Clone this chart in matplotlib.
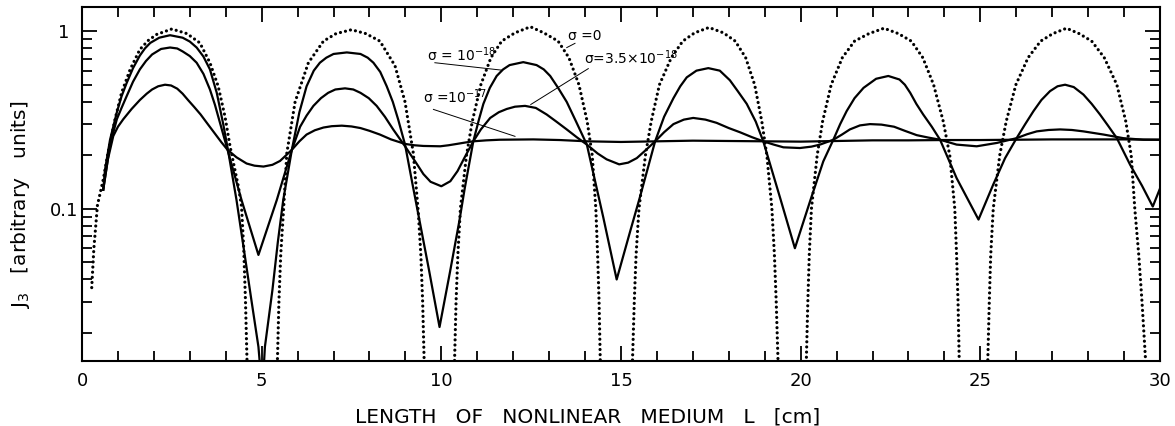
import numpy as np
import matplotlib
matplotlib.use('Agg')
import matplotlib.pyplot as plt

plt.rcParams['font.family'] = ['DejaVu Sans']
plt.rcParams['mathtext.fontset'] = 'dejavusans'

# sigma = 0 (dotted)
sig0_L = [0.27, 0.33, 0.43, 0.59, 0.73, 0.92, 1.10, 1.34, 1.61, 1.85, 2.08, 2.50,
          2.92, 3.28, 3.56, 3.79, 3.98, 4.12, 4.35, 4.44, 4.50, 4.55, 4.60,
          5.43, 5.48, 5.53, 5.61, 5.70, 5.93, 6.30, 6.72, 7.07, 7.50,
          7.90, 8.29, 8.71, 8.99, 9.22, 9.36, 9.43, 9.48, 9.53,
          10.36, 10.41, 10.46, 10.53, 10.70, 10.86, 11.10, 11.38, 11.68, 12.05, 12.48,
          12.85, 13.25, 13.55, 13.83, 14.06, 14.20, 14.30, 14.35, 14.39, 14.43,
          15.31, 15.37, 15.42, 15.50, 15.68, 15.84, 16.07, 16.40, 16.72, 17.05, 17.45,
          17.85, 18.18, 18.47, 18.72, 18.92, 19.06, 19.20, 19.27, 19.32, 19.38,
          20.15, 20.20, 20.24, 20.30, 20.46, 20.61, 20.85, 21.16, 21.50, 21.90, 22.32,
          22.72, 23.08, 23.40, 23.70, 23.97, 24.15, 24.29, 24.34, 24.38, 24.42,
          25.20, 25.25, 25.29, 25.36, 25.54, 25.72, 25.99, 26.33, 26.68, 27.02, 27.40,
          27.75, 28.10, 28.45, 28.80, 29.05, 29.20, 29.30, 29.41, 29.50, 29.62]
sig0_J = [0.036, 0.060, 0.105, 0.146, 0.21, 0.32, 0.45, 0.61, 0.79, 0.89, 0.96, 1.03,
          0.97, 0.86, 0.665, 0.49, 0.33, 0.225, 0.134, 0.103, 0.06, 0.03, 0.012,
          0.012, 0.03, 0.055, 0.10, 0.206, 0.40, 0.665, 0.88, 0.97, 1.02,
          0.97, 0.88, 0.64, 0.40, 0.206, 0.095, 0.055, 0.03, 0.012,
          0.012, 0.03, 0.055, 0.10, 0.20, 0.31, 0.50, 0.71, 0.88, 0.98, 1.06,
          0.98, 0.88, 0.71, 0.50, 0.31, 0.20, 0.10, 0.055, 0.03, 0.012,
          0.012, 0.03, 0.055, 0.10, 0.20, 0.31, 0.50, 0.71, 0.88, 0.98, 1.05,
          0.98, 0.88, 0.71, 0.50, 0.31, 0.20, 0.10, 0.055, 0.03, 0.012,
          0.012, 0.03, 0.055, 0.10, 0.20, 0.31, 0.50, 0.71, 0.88, 0.97, 1.04,
          0.97, 0.88, 0.71, 0.50, 0.31, 0.20, 0.10, 0.055, 0.03, 0.012,
          0.012, 0.03, 0.055, 0.10, 0.20, 0.31, 0.50, 0.71, 0.88, 0.97, 1.04,
          0.97, 0.88, 0.71, 0.50, 0.31, 0.20, 0.10, 0.055, 0.03, 0.012]

# sigma = 1e-18
s18_L = [0.59, 0.64, 0.78, 0.97, 1.10, 1.24, 1.42, 1.61, 1.75, 1.90, 2.15, 2.45, 2.80, 3.00,
         3.19, 3.38, 3.56, 3.75, 3.93, 4.07, 4.30, 4.50, 4.70, 4.91, 4.97,
         5.05, 5.09, 5.30, 5.45, 5.60, 5.84, 6.05, 6.25, 6.45, 6.62, 6.80, 7.00, 7.37, 7.75,
         7.95, 8.11, 8.30, 8.48, 8.65, 8.80, 8.99, 9.20, 9.36, 9.65, 9.95,
         10.24, 10.50, 10.65, 10.89, 11.05, 11.17, 11.35, 11.54, 11.72, 11.90, 12.28, 12.65,
         12.85, 13.03, 13.25, 13.49, 13.75, 14.05, 14.51, 14.88,
         15.25, 15.53, 15.95, 16.20, 16.46, 16.65, 16.83, 17.10, 17.43, 17.75, 18.03, 18.25,
         18.50, 18.75, 18.96, 19.43, 19.84,
         20.26, 20.63, 20.91, 21.10, 21.28, 21.50, 21.75, 22.10, 22.44, 22.75, 22.90, 23.05,
         23.22, 23.41, 23.65, 23.88, 24.34, 24.95,
         25.36, 25.69, 26.01, 26.25, 26.48, 26.70, 26.94, 27.15, 27.36, 27.60, 27.87, 28.10,
         28.33, 28.55, 28.80, 29.17, 29.50, 29.80, 30.00]
s18_J = [0.128, 0.166, 0.245, 0.35, 0.43, 0.51, 0.62, 0.73, 0.80, 0.86, 0.92, 0.95, 0.92, 0.875,
         0.81, 0.72, 0.61, 0.45, 0.30, 0.21, 0.112, 0.06, 0.032, 0.0167, 0.012,
         0.012, 0.0167, 0.035, 0.065, 0.112, 0.215, 0.35, 0.49, 0.60, 0.665, 0.71, 0.745, 0.76, 0.745,
         0.71, 0.665, 0.59, 0.49, 0.40, 0.318, 0.23, 0.137, 0.093, 0.046, 0.0216,
         0.044, 0.085, 0.13, 0.24, 0.32, 0.39, 0.48, 0.56, 0.61, 0.645, 0.67, 0.645,
         0.61, 0.56, 0.48, 0.40, 0.31, 0.23, 0.089, 0.040,
         0.074, 0.117, 0.24, 0.33, 0.42, 0.49, 0.55, 0.60, 0.62, 0.60, 0.53, 0.46,
         0.39, 0.31, 0.24, 0.115, 0.060,
         0.11, 0.185, 0.245, 0.30, 0.355, 0.42, 0.48, 0.54, 0.56, 0.535, 0.50, 0.45,
         0.39, 0.34, 0.29, 0.245, 0.149, 0.087,
         0.137, 0.193, 0.25, 0.30, 0.355, 0.41, 0.46, 0.49, 0.50, 0.485, 0.44, 0.39,
         0.34, 0.295, 0.25, 0.177, 0.135, 0.103, 0.13]

# sigma = 3.5e-18
s35_L = [0.59, 0.78, 0.97, 1.10, 1.24, 1.42, 1.61, 1.78, 1.95, 2.20, 2.45, 2.65, 2.80, 3.00,
         3.19, 3.38, 3.56, 3.70, 3.84, 4.05, 4.44, 4.91,
         5.42, 5.84, 6.07, 6.25, 6.44, 6.65, 6.85, 7.05, 7.32, 7.55, 7.75, 7.98, 8.20, 8.43,
         8.66, 8.99, 9.31, 9.50, 9.70, 10.00, 10.25, 10.45, 10.65, 10.89,
         11.10, 11.36, 11.60, 11.82, 12.05, 12.33, 12.63, 12.93, 13.20, 13.49, 13.77, 14.05,
         14.35, 14.60, 14.95, 15.20, 15.44, 15.70, 15.95,
         16.20, 16.46, 16.75, 17.01, 17.35, 17.66, 18.00, 18.31, 18.65, 18.96, 19.25, 19.52,
         19.98, 20.30, 20.54, 20.91,
         21.15, 21.37, 21.65, 21.93, 22.25, 22.60, 22.90, 23.23, 23.55, 23.88, 24.34, 24.90,
         25.46, 26.01, 26.30, 26.57, 26.90, 27.22, 27.55, 27.87, 28.43, 28.98, 29.54, 30.00]
s35_J = [0.128, 0.23, 0.32, 0.37, 0.43, 0.52, 0.61, 0.68, 0.74, 0.795, 0.81, 0.80, 0.77, 0.725,
         0.665, 0.575, 0.47, 0.385, 0.305, 0.215, 0.112, 0.055,
         0.112, 0.215, 0.29, 0.335, 0.38, 0.42, 0.45, 0.47, 0.477, 0.47, 0.45, 0.42, 0.38, 0.33,
         0.28, 0.225, 0.18, 0.157, 0.142, 0.134, 0.143, 0.163, 0.195, 0.24,
         0.28, 0.325, 0.35, 0.365, 0.376, 0.38, 0.37, 0.34, 0.31, 0.28, 0.253, 0.23,
         0.205, 0.19, 0.178, 0.182, 0.193, 0.215, 0.24,
         0.27, 0.30, 0.318, 0.325, 0.318, 0.305, 0.285, 0.27, 0.253, 0.24, 0.23, 0.222,
         0.22, 0.224, 0.23, 0.245,
         0.262, 0.28, 0.295, 0.30, 0.298, 0.29, 0.275, 0.26, 0.252, 0.245, 0.23, 0.225,
         0.235, 0.25, 0.263, 0.273, 0.278, 0.28, 0.278, 0.273, 0.262, 0.25, 0.245, 0.245]

# sigma = 1e-17
s17_L = [0.59, 0.72, 0.87, 1.00, 1.15, 1.38, 1.61, 1.80, 1.95, 2.12, 2.31, 2.48, 2.65, 2.80,
         2.95, 3.12, 3.30, 3.50, 3.70, 3.88, 4.05, 4.30, 4.58, 4.80, 5.05, 5.30, 5.51, 5.70,
         5.84, 6.05, 6.25, 6.48, 6.72, 6.95, 7.23, 7.50, 7.75, 8.00, 8.29, 8.60, 8.99, 9.25,
         9.50, 9.97, 10.20, 10.43, 10.65, 10.89, 11.25, 11.63, 12.56, 13.30, 14.05,
         15.00, 16.00, 17.00, 18.00, 19.00, 20.00, 21.00, 22.00, 23.00, 24.00, 25.00, 26.00,
         27.00, 28.00, 29.00, 30.00]
s17_J = [0.128, 0.19, 0.257, 0.29, 0.32, 0.365, 0.41, 0.445, 0.47, 0.49, 0.50, 0.495, 0.475, 0.445,
         0.41, 0.375, 0.34, 0.30, 0.265, 0.237, 0.215, 0.195, 0.18, 0.175, 0.173, 0.177, 0.186, 0.202,
         0.215, 0.24, 0.262, 0.277, 0.287, 0.292, 0.294, 0.291, 0.285, 0.275, 0.262, 0.246, 0.232, 0.228,
         0.226, 0.225, 0.228, 0.232, 0.236, 0.24, 0.243, 0.245, 0.246, 0.244, 0.24,
         0.238, 0.24, 0.242, 0.241, 0.24, 0.239, 0.241, 0.243, 0.243, 0.244, 0.244, 0.245,
         0.246, 0.246, 0.246, 0.245]

fig = plt.figure(figsize=(11.75, 4.26), dpi=100)
ax = fig.add_axes([0.0698, 0.1526, 0.9174, 0.831])

ax.plot(sig0_L, sig0_J, color='black', lw=2.3, ls=(0, (0.01, 1.6)), dash_capstyle='round')
ax.plot(s18_L, s18_J, color='black', lw=1.6)
ax.plot(s35_L, s35_J, color='black', lw=1.6)
ax.plot(s17_L, s17_J, color='black', lw=1.6)

ax.set_yscale('log')
ax.set_xlim(0, 30)
ax.set_ylim(0.0139, 1.37)

ax.set_xticks(np.arange(0, 31, 5))
ax.set_xticks(np.arange(0, 31, 1), minor=True)
ax.set_yticks([0.1, 1])
ax.set_yticklabels(['0.1', '1'])
ax.tick_params(which='both', direction='in', top=True, right=True, width=1.3,
               labelsize=13)
ax.tick_params(axis='x', which='major', length=10.5, pad=8)
ax.tick_params(axis='x', which='minor', length=7)
ax.tick_params(axis='y', which='major', length=11, pad=13)
ax.tick_params(axis='y', which='minor', length=7)
for lab in ax.get_yticklabels():
    lab.set_ha('center')
for sp in ax.spines.values():
    sp.set_linewidth(1.5)

ax.set_xlabel('LENGTH   OF   NONLINEAR   MEDIUM   L   [cm]', fontsize=14.5)
ax.xaxis.set_label_coords(0.469, -0.132)
ax.set_ylabel(r'J$_\mathregular{3}$   [arbitrary   units]', fontsize=14.5)
ax.yaxis.set_label_coords(-0.0464, 0.44)

# curve labels and leader lines
ax.text(9.59, 0.68, r'σ = 10$^{-18}$', fontsize=10, va='baseline')
ax.plot([9.82, 11.68], [0.665, 0.604], color='black', lw=0.7)
ax.text(13.53, 0.893, 'σ =0', fontsize=10, va='baseline')
ax.plot([13.49, 13.72], [0.809, 0.855], color='black', lw=0.7)
ax.text(13.97, 0.657, r'σ=3.5×10$^{-18}$', fontsize=10, va='baseline')
ax.plot([14.09, 12.49], [0.616, 0.387], color='black', lw=0.7)
ax.text(9.48, 0.392, r'σ =10$^{-17}$', fontsize=10, va='baseline')
ax.plot([9.78, 12.05], [0.363, 0.256], color='black', lw=0.7)

fig.savefig('out.png', dpi=100)
